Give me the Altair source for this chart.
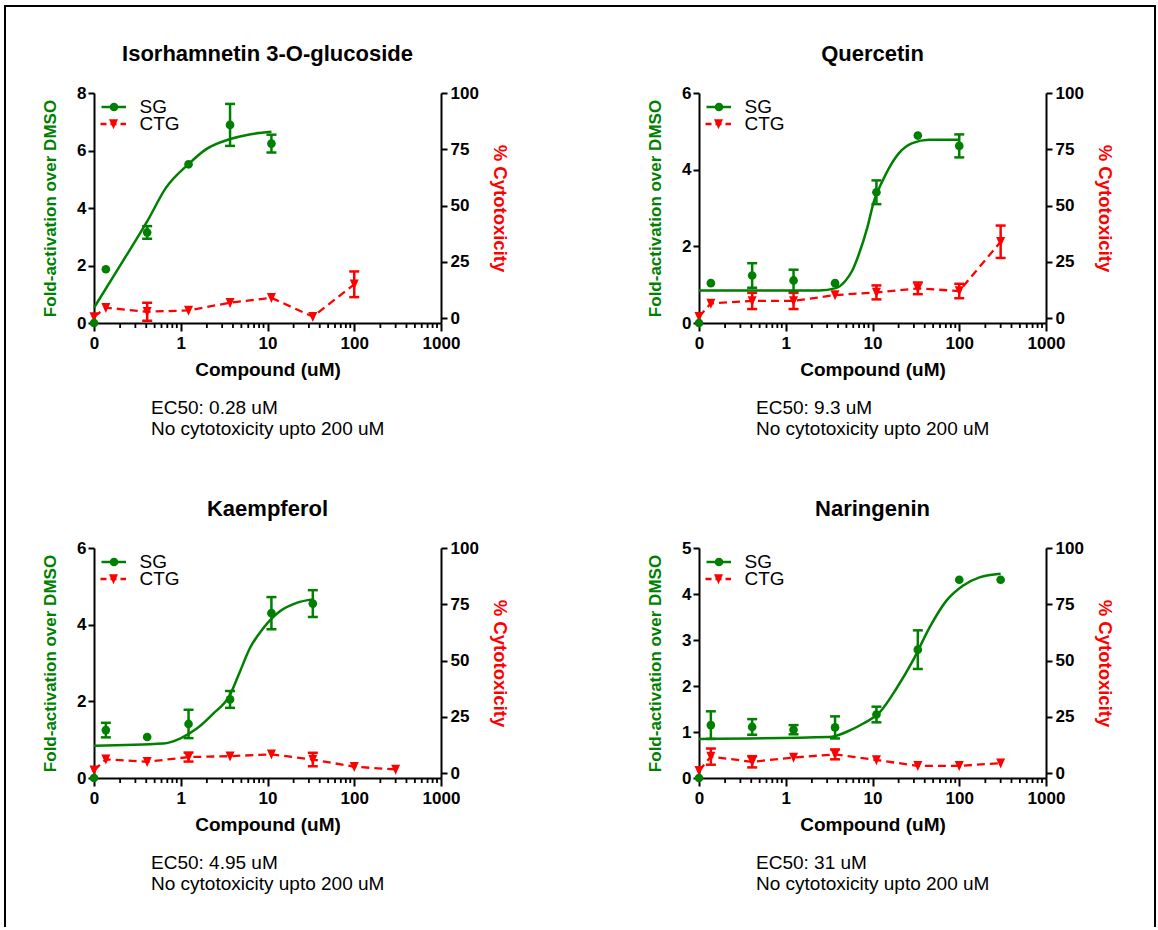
import altair as alt
import pandas as pd

GREEN = "#008000"
RED = "#ff0000"
FONT = "Liberation Sans"

titles = ["Isorhamnetin 3-O-glucoside", "Quercetin", "Kaempferol", "Naringenin"]
ec50_labels = ["EC50: 0.28 uM", "EC50: 9.3 uM", "EC50: 4.95 uM", "EC50: 31 uM"]
note_label = "No cytotoxicity upto 200 uM"
legend_labels = ["SG", "CTG"]
y_max = [8, 6, 6, 5]
y_ticks = [[0, 2, 4, 6, 8], [0, 2, 4, 6], [0, 2, 4, 6], [0, 1, 2, 3, 4, 5]]
cyto_domain = [-2.2, 100]
cyto_ticks = [0, 25, 50, 75, 100]
x_major = [0.1, 1, 10, 100, 1000]
x_minor = [0.2, 0.3, 0.4, 0.5, 0.6, 0.7, 0.8, 0.9,
           2, 3, 4, 5, 6, 7, 8, 9,
           20, 30, 40, 50, 60, 70, 80, 90,
           200, 300, 400, 500, 600, 700, 800, 900]

# ---- SG (fold activation) ----
sg_conc = [
    [0, 0.137, 0.41, 1.23, 3.7, 11.1],
    [0, 0.137, 0.41, 1.23, 3.7, 11.1, 33.3, 100],
    [0, 0.137, 0.41, 1.23, 3.7, 11.1, 33.3],
    [0, 0.137, 0.41, 1.23, 3.7, 11.1, 33.3, 100, 300],
]
sg_mean = [
    [0.0, 1.87, 3.15, 5.52, 6.89, 6.24],
    [0.0, 1.04, 1.24, 1.11, 1.04, 3.41, 4.89, 4.62],
    [0.0, 1.25, 1.07, 1.41, 2.05, 4.30, 4.55],
    [0.0, 1.15, 1.11, 1.05, 1.10, 1.38, 2.79, 4.31, 4.31],
]
sg_err = [
    [0, 0, 0.22, 0, 0.73, 0.31],
    [0, 0, 0.32, 0.28, 0, 0.31, 0, 0.30],
    [0, 0.19, 0, 0.37, 0.22, 0.42, 0.35],
    [0, 0.30, 0.17, 0.10, 0.24, 0.17, 0.42, 0, 0],
]

# ---- fitted SG curves ----
fit_conc = [
    [0.1, 0.204, 0.413, 0.674, 1.22, 1.95, 3.64, 6.19, 11.1],
    [0.1, 2.42, 3.77, 4.91, 5.85, 6.98, 8.71, 10.4, 13.0, 15.5, 20.2, 28.8, 44.8, 100],
    [0.1, 0.63, 0.98, 1.53, 2.37, 3.70, 4.82, 6.28, 8.95, 13.9, 21.7, 33.3],
    [0.1, 3.19, 4.98, 7.73, 12.0, 18.8, 29.2, 45.4, 70.8, 110, 171, 300],
]
fit_val = [
    [0.53, 2.04, 3.55, 4.70, 5.52, 6.04, 6.39, 6.56, 6.65],
    [0.85, 0.85, 0.91, 1.11, 1.37, 1.80, 2.49, 3.18, 3.70, 4.04, 4.43, 4.69, 4.78, 4.78],
    [0.84, 0.90, 1.03, 1.29, 1.68, 2.17, 2.78, 3.39, 3.91, 4.35, 4.57, 4.66],
    [0.85, 0.89, 1.00, 1.18, 1.42, 1.94, 2.55, 3.27, 3.85, 4.18, 4.36, 4.44],
]

# ---- CTG (% cytotoxicity) ----
ctg_conc = [
    [0, 0.137, 0.41, 1.23, 3.7, 11.1, 33.3, 100],
    [0, 0.137, 0.41, 1.23, 3.7, 11.1, 33.3, 100, 300],
    [0, 0.137, 0.41, 1.23, 3.7, 11.1, 33.3, 100, 300],
    [0, 0.137, 0.41, 1.23, 3.7, 11.1, 33.3, 100, 300],
]
ctg_mean = [
    [0.5, 4.6, 2.8, 3.4, 6.8, 9.0, 0.6, 15.0],
    [0.6, 6.5, 7.6, 7.6, 10.2, 11.4, 13.2, 12.0, 33.9],
    [1.2, 6.1, 5.0, 7.1, 7.5, 8.3, 6.0, 2.8, 1.6],
    [1.0, 7.3, 5.0, 6.9, 8.3, 5.8, 3.2, 3.2, 4.4],
]
ctg_err = [
    [0, 0, 4.0, 0, 0, 0, 0, 5.7],
    [0, 0, 3.6, 3.6, 0, 3.1, 2.6, 3.2, 7.2],
    [0, 0, 0, 2.0, 0, 0, 3.0, 0, 0],
    [0, 3.6, 2.5, 0, 2.2, 0, 0, 0, 0],
]

W, H = 347, 230
TRI = "M-0.9,-0.95L0.9,-0.95L0,1.05Z"

x_scale = alt.Scale(type="log", domain=[0.1, 1000], nice=False)
x_axis = alt.Axis(
    values=x_major,
    labelExpr="datum.value == 0.1 ? '0' : format(datum.value, 'd')",
    tickSize=8,
    title="Compound (uM)", titleFontSize=19, titlePadding=9,
    labelPadding=4, labelFlush=False, labelOverlap=False, grid=False,
)


def make_df(conc, mean, err):
    df = pd.DataFrame({"conc": conc, "mean": mean, "err": err})
    df["xc"] = df["conc"].where(df["conc"] > 0, 0.1)
    df["lo"] = df["mean"] - df["err"]
    df["hi"] = df["mean"] + df["err"]
    return df


def panel(i, border=False):
    sg = make_df(sg_conc[i], sg_mean[i], sg_err[i])
    ctg = make_df(ctg_conc[i], ctg_mean[i], ctg_err[i])
    fit = pd.DataFrame({"conc": fit_conc[i], "val": fit_val[i]})
    minor = pd.DataFrame({"xc": x_minor})

    ys = alt.Scale(domain=[0, y_max[i]], nice=False, zero=False)
    yax = alt.Axis(orient="left", values=y_ticks[i], title="Fold-activation over DMSO",
                   titleColor=GREEN, titleFontSize=17, titlePadding=17,
                   tickSize=6, labelPadding=2, grid=False)
    cs = alt.Scale(domain=cyto_domain, nice=False, zero=False)
    cax = alt.Axis(orient="right", values=cyto_ticks, title="% Cytotoxicity",
                   titleColor=RED, titleFontSize=18.5, titlePadding=11,
                   tickSize=6, labelPadding=3, grid=False)
    X = alt.X("xc:Q", scale=x_scale, axis=x_axis)

    sg_bars = sg[sg["err"] > 0]
    ctg_bars = ctg[ctg["err"] > 0]

    ctg_layer = alt.layer(
        alt.Chart(minor).mark_rule(color="black", strokeWidth=1.8).encode(
            x=X, y=alt.value(H), y2=alt.value(H + 5)),
        alt.Chart(ctg).mark_line(color=RED, strokeWidth=2.3, strokeDash=[8, 5]).encode(
            x=X, y=alt.Y("mean:Q", scale=cs, axis=cax)),
        alt.Chart(ctg_bars).mark_rule(color=RED, strokeWidth=2.5).encode(
            x=X, y=alt.Y("lo:Q", scale=cs, axis=cax), y2="hi:Q"),
        alt.Chart(ctg_bars).mark_tick(color=RED, orient="horizontal", size=10, thickness=2.5, opacity=1).encode(
            x=X, y=alt.Y("lo:Q", scale=cs, axis=cax)),
        alt.Chart(ctg_bars).mark_tick(color=RED, orient="horizontal", size=10, thickness=2.5, opacity=1).encode(
            x=X, y=alt.Y("hi:Q", scale=cs, axis=cax)),
        alt.Chart(ctg).mark_point(shape=TRI, filled=True, size=100, color=RED, opacity=1).encode(
            x=X, y=alt.Y("mean:Q", scale=cs, axis=cax)),
    )

    sg_layer = alt.layer(
        alt.Chart(fit).transform_calculate(xc="datum.conc").mark_line(
            color=GREEN, strokeWidth=2.5, interpolate="monotone").encode(
            x=X, y=alt.Y("val:Q", scale=ys, axis=yax)),
        alt.Chart(sg_bars).mark_rule(color=GREEN, strokeWidth=2.5).encode(
            x=X, y=alt.Y("lo:Q", scale=ys, axis=yax), y2="hi:Q"),
        alt.Chart(sg_bars).mark_tick(color=GREEN, orient="horizontal", size=10, thickness=2.5, opacity=1).encode(
            x=X, y=alt.Y("lo:Q", scale=ys, axis=yax)),
        alt.Chart(sg_bars).mark_tick(color=GREEN, orient="horizontal", size=10, thickness=2.5, opacity=1).encode(
            x=X, y=alt.Y("hi:Q", scale=ys, axis=yax)),
        alt.Chart(sg).mark_point(shape="circle", filled=True, size=75, color=GREEN, opacity=1).encode(
            x=X, y=alt.Y("mean:Q", scale=ys, axis=yax)),
    )

    one = pd.DataFrame({"k": [0]})
    deco = [
        # panel title
        alt.Chart(one).mark_text(align="center", baseline="alphabetic", fontSize=22,
                                 fontWeight="bold", font=FONT).encode(
            x=alt.value(W / 2), y=alt.value(-32), text=alt.value(titles[i])),
        # legend
        alt.Chart(one).mark_rule(color=GREEN, strokeWidth=2.5).encode(
            x=alt.value(7.5), x2=alt.value(32), y=alt.value(14)),
        alt.Chart(one).mark_point(shape="circle", filled=True, size=75, color=GREEN, opacity=1).encode(
            x=alt.value(20), y=alt.value(14)),
        alt.Chart(one).mark_text(align="left", baseline="middle", fontSize=19, font=FONT).encode(
            x=alt.value(45.5), y=alt.value(13.5), text=alt.value(legend_labels[0])),
        alt.Chart(one).mark_rule(color=RED, strokeWidth=2.3, strokeDash=[6, 4]).encode(
            x=alt.value(6.5), x2=alt.value(32), y=alt.value(31)),
        alt.Chart(one).mark_point(shape=TRI, filled=True, size=100, color=RED, opacity=1).encode(
            x=alt.value(19.5), y=alt.value(31)),
        alt.Chart(one).mark_text(align="left", baseline="middle", fontSize=19, font=FONT).encode(
            x=alt.value(45.5), y=alt.value(30.5), text=alt.value(legend_labels[1])),
        # annotation
        alt.Chart(one).mark_text(align="left", baseline="alphabetic", fontSize=19, font=FONT).encode(
            x=alt.value(57), y=alt.value(321), text=alt.value(ec50_labels[i])),
        alt.Chart(one).mark_text(align="left", baseline="alphabetic", fontSize=19, font=FONT).encode(
            x=alt.value(57), y=alt.value(342), text=alt.value(note_label)),
    ]
    if border:
        deco += [
            alt.Chart(one).mark_rule(color="black", strokeWidth=2).encode(
                x=alt.value(-89), x2=alt.value(1061), y=alt.value(-87)),
            alt.Chart(one).mark_rule(color="black", strokeWidth=2).encode(
                x=alt.value(-89), y=alt.value(-88), y2=alt.value(834)),
            alt.Chart(one).mark_rule(color="black", strokeWidth=2).encode(
                x=alt.value(1061), y=alt.value(-88), y2=alt.value(834)),
        ]

    return alt.layer(
        alt.layer(ctg_layer, sg_layer).resolve_scale(y="independent"),
        *deco,
    ).properties(width=W, height=H)


chart = alt.concat(
    panel(0, border=True), panel(1), panel(2), panel(3),
    columns=2, spacing=alt.RowColnumber(row=225, column=258), bounds="flush",
).properties(
    padding={"left": 4, "top": 4, "right": 0, "bottom": 0},
).configure_view(stroke=None).configure_axis(
    labelFont=FONT, titleFont=FONT, labelFontSize=17, labelFontWeight="bold",
    titleFontWeight="bold", labelColor="black", domainColor="black", tickColor="black",
    domainWidth=2, tickWidth=2,
)

chart.save("out.html", embed_options={"renderer": "svg", "actions": False})
